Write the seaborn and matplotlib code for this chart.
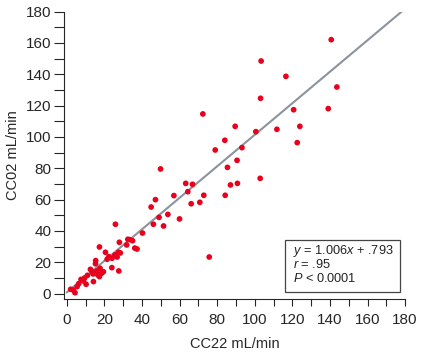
import numpy as np
import pandas as pd
import seaborn as sns
import matplotlib.pyplot as plt
from matplotlib.patches import Rectangle

# values (CC22 vs CC02, mL/min)
cc22 = [140.7, 103.4, 116.6, 143.7, 103.1, 120.7, 139.1, 72.4, 89.6, 124.0,
        111.8, 100.6, 84.1, 122.6, 93.2, 79.0, 90.6, 85.5, 49.9, 102.9,
        63.3, 66.9, 90.8, 87.1, 64.4, 57.0, 72.9, 84.3, 47.2, 66.2,
        70.8, 44.9, 53.8, 49.1, 60.0, 25.9, 46.1, 51.5, 40.3, 32.5,
        28.0, 35.0, 31.9, 36.2, 37.4, 17.4, 27.5, 20.6, 25.6, 22.4,
        24.1, 26.8, 15.4, 15.3, 24.0, 27.7, 75.8, 17.7, 12.6, 16.0,
        19.5, 14.0, 11.0, 17.4, 14.2, 7.6, 8.9, 6.4, 10.3, 2.1,
        4.4, 3.5, 33.5, 21.5, 18.5, 13.5, 9.5, 5.5, 16.5, 28.5]
cc02 = [162.1, 148.5, 138.7, 131.9, 124.7, 117.4, 118.1, 114.7, 106.8, 106.8,
        104.9, 103.4, 97.9, 96.4, 93.2, 91.7, 85.1, 80.6, 79.6, 73.6,
        70.4, 69.8, 70.4, 69.4, 65.1, 62.6, 62.8, 62.8, 60.0, 57.4,
        58.3, 55.3, 50.6, 48.7, 47.7, 44.3, 44.3, 43.2, 38.7, 34.7,
        32.8, 33.8, 31.1, 29.1, 28.5, 29.8, 26.4, 26.4, 24.7, 23.6,
        22.6, 23.4, 21.1, 19.1, 16.6, 14.5, 23.4, 16.2, 15.5, 14.5,
        14.0, 12.6, 11.7, 10.9, 7.7, 9.1, 8.1, 6.4, 6.0, 2.8,
        0.6, 2.3, 34.5, 22.0, 13.0, 14.0, 10.0, 4.5, 12.0, 26.0]

slope = 1.006
intercept = 0.793
stats_lines = ["$y$ = 1.006$x$ + .793", "$r$ = .95", "$P$ < 0.0001"]

df = pd.DataFrame({"CC22": cc22, "CC02": cc02})

sns.set_style("ticks")
plt.rcParams['font.family'] = ['Liberation Sans', 'DejaVu Sans']
plt.rcParams['mathtext.fontset'] = 'custom'
plt.rcParams['mathtext.it'] = 'Liberation Sans:italic'
plt.rcParams['mathtext.rm'] = 'Liberation Sans'

fig = plt.figure(figsize=(4.22, 3.53), dpi=100)
ax = fig.add_axes([0.151, 0.153, 0.809, 0.814])

line_x = np.array([0, 180])
ax.plot(line_x, slope * line_x + intercept, color='#8c939b', linewidth=1.5,
        zorder=2)

sns.scatterplot(data=df, x="CC22", y="CC02", ax=ax, color='#e8001c', s=17,
                edgecolor='none', zorder=3)

ax.set_xlim(-1.6, 180)
ax.set_ylim(-3.4, 180)
ax.set_xticks(np.arange(0, 181, 20))
ax.set_yticks(np.arange(0, 181, 20))
ax.set_xticks(np.arange(0, 181, 10), minor=True)
ax.set_yticks(np.arange(0, 181, 10), minor=True)
ax.tick_params(axis='x', which='both', length=5, width=0.8, labelsize=11, pad=5)
ax.tick_params(axis='y', which='both', length=7, width=0.8, labelsize=11, pad=2)
sns.despine(ax=ax)

ax.set_xlabel("CC22 mL/min", fontsize=10.5, labelpad=7)
ax.set_ylabel("CC02 mL/min", fontsize=10.5, labelpad=4)

ax.add_patch(Rectangle((116.2, 1.3), 61.2, 33.0, fill=False, edgecolor='#444444',
                       linewidth=0.9, zorder=4))
for i, s in enumerate(stats_lines):
    ax.text(120.5, 27.5 - i * 9.0, s, fontsize=9.2, va='center', ha='left',
            color='#222222', zorder=5)

fig.savefig("out.png", dpi=100)
